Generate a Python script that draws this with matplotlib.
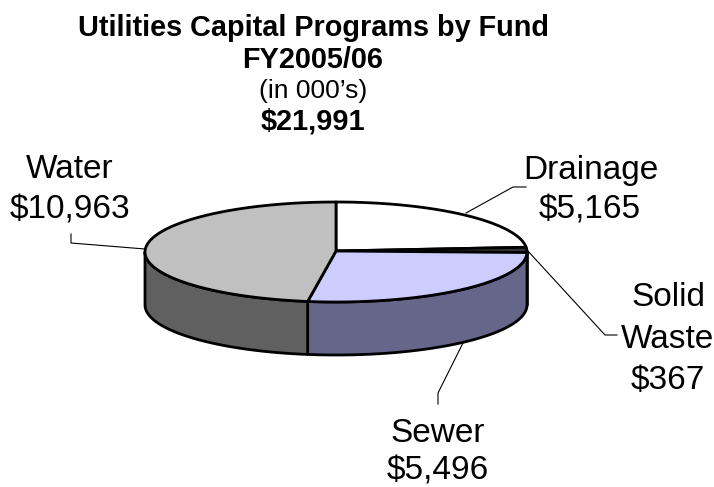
import numpy as np
import matplotlib
matplotlib.use('Agg')
import matplotlib.pyplot as plt

plt.rcParams['font.family'] = ['Liberation Sans', 'DejaVu Sans']

# values in $000's, clockwise from 12 o'clock
funds = ['Drainage', 'Solid Waste', 'Sewer', 'Water']
values = [5165, 367, 5496, 10963]
top_colors = ['#FFFFFF', '#333333', '#CCCCFF', '#C0C0C0']
side_colors = ['#808080', '#1A1A1A', '#66668A', '#606060']

title_lines = ['Utilities Capital Programs by Fund', 'FY2005/06', "(in 000\u2019s)", '$21,991']
title_y = [28, 60, 91, 121]
title_weight = ['bold', 'bold', 'normal', 'bold']
title_size = [20.8, 20.8, 19, 20.8]

# pie geometry, in picture pixels
cx, cy = 336, 252
rx, ry = 191, 50
depth = 53

fig = plt.figure(figsize=(7.14, 4.87), dpi=100)
ax = fig.add_axes([0, 0, 1, 1])
ax.set_xlim(0, 714)
ax.set_ylim(487, 0)
ax.axis('off')


def warp(theta):
    # the original 3D pie is drawn a bit skewed in its lower right
    return theta + 8 * np.maximum(0, -np.cos(np.radians(theta)))


def arc(a, b):
    t = np.radians(warp(np.linspace(a, b, 200)))
    return cx + rx * np.sin(t), cy - ry * np.cos(t)


edges = np.concatenate([[0], np.cumsum(values)]) / sum(values) * 360

# rim first, only the front half shows
for i in range(len(values)):
    a = max(edges[i], 90)
    b = min(edges[i + 1], 270)
    if a >= b:
        continue
    x, y = arc(a, b)
    ax.fill(np.r_[x, x[::-1]], np.r_[y, y[::-1] + depth], fc=side_colors[i],
            ec='black', lw=2, joinstyle='round', zorder=2)

# top face
for i in range(len(values)):
    x, y = arc(edges[i], edges[i + 1])
    ax.fill(np.r_[cx, x], np.r_[cy - 1, y], fc=top_colors[i],
            ec='black', lw=2, joinstyle='round', zorder=3)

# leader lines
ax.plot([71, 71, 145], [234, 243, 249], color='black', lw=0.8, zorder=1)
ax.plot([526, 513, 466], [187, 187, 213], color='black', lw=0.8, zorder=1)
ax.plot([527, 605, 617], [250, 335, 335], color='black', lw=0.8, zorder=1)
ax.plot([463, 438, 438], [343, 393, 404], color='black', lw=0.8, zorder=1)

for line, y, w, s in zip(title_lines, title_y, title_weight, title_size):
    ax.text(313, y, line, ha='center', va='center', fontweight=w, fontsize=s)

label_size = 24
money = ['$' + format(v, ',') for v in values]
ax.text(591, 171, funds[0], ha='center', va='center', fontsize=label_size)
ax.text(590, 210, money[0], ha='center', va='center', fontsize=label_size)
ax.text(668, 298, 'Solid', ha='center', va='center', fontsize=label_size)
ax.text(667, 340, 'Waste', ha='center', va='center', fontsize=label_size)
ax.text(668, 381, money[1], ha='center', va='center', fontsize=label_size)
ax.text(438, 434, funds[2], ha='center', va='center', fontsize=label_size)
ax.text(438, 470.5, money[2], ha='center', va='center', fontsize=label_size)
ax.text(70, 169, funds[3], ha='center', va='center', fontsize=label_size)
ax.text(70, 210, money[3], ha='center', va='center', fontsize=label_size)

fig.savefig('out.png', dpi=100)
